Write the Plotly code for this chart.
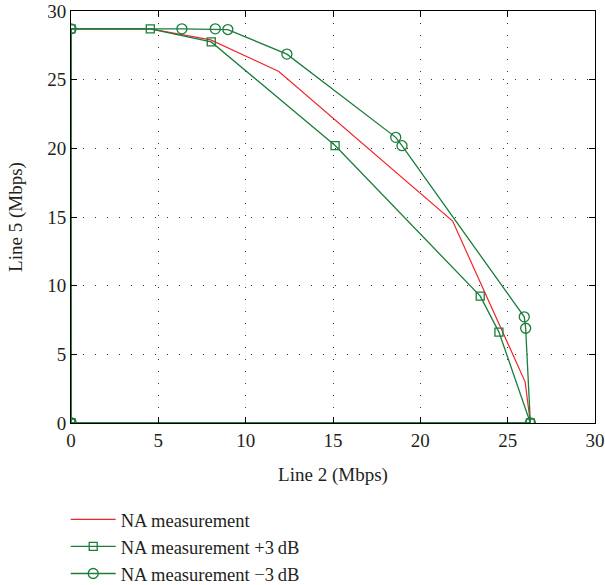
import plotly.graph_objects as go

# NA measurement (red)
na_x = [0, 0, 4.54, 8.0, 11.9, 21.85, 26.0, 26.3, 0]
na_y = [0, 28.7, 28.7, 27.9, 25.6, 14.7, 3.0, 0, 0]

# NA measurement +3 dB (squares)
plus_x = [0, 0, 4.54, 8.03, 15.12, 23.43, 24.5, 26.3, 0]
plus_y = [0, 28.7, 28.7, 27.75, 20.2, 9.24, 6.62, 0, 0]

# NA measurement -3 dB (circles)
minus_x = [0, 0, 6.35, 8.26, 8.98, 12.36, 18.59, 18.95, 25.95, 26.03, 26.3, 0]
minus_y = [0, 28.7, 28.7, 28.7, 28.65, 26.86, 20.8, 20.19, 7.73, 6.9, 0, 0]

tick_vals = [0, 5, 10, 15, 20, 25, 30]

RED = "#f0262a"
GREEN = "#1b7d3c"
TEXT = "#231f20"
FONT = "Liberation Serif"

fig = go.Figure()

fig.add_trace(go.Scatter(
    x=na_x, y=na_y, mode="lines", name="NA measurement",
    line=dict(color=RED, width=1.2),
))
fig.add_trace(go.Scatter(
    x=plus_x, y=plus_y, mode="lines+markers", name="NA measurement +3\u2009dB",
    line=dict(color=GREEN, width=1.3),
    marker=dict(symbol="square-open", size=8, color=GREEN, line=dict(width=1.3)),
))
fig.add_trace(go.Scatter(
    x=minus_x, y=minus_y, mode="lines+markers", name="NA measurement \u22123\u2009dB",
    line=dict(color=GREEN, width=1.3),
    marker=dict(symbol="circle-open", size=10, color=GREEN, line=dict(width=1.3)),
))

axis_common = dict(
    range=[0, 30],
    tickvals=tick_vals,
    ticks="inside",
    ticklen=6,
    tickcolor="black",
    showline=True,
    linecolor="black",
    linewidth=1,
    mirror="ticks",
    showgrid=True,
    gridcolor="#333",
    griddash="1px,11px",
    gridwidth=1.2,
    zeroline=False,
    automargin=False,
    tickfont=dict(family=FONT, size=19, color=TEXT),
)

fig.update_xaxes(
    title=dict(text="Line 2 (Mbps)", font=dict(family=FONT, size=19, color=TEXT), standoff=17),
    **axis_common,
)
fig.update_yaxes(
    title=dict(text="Line 5 (Mbps)", font=dict(family=FONT, size=19, color=TEXT), standoff=19),
    **axis_common,
)

fig.update_layout(
    width=605,
    height=585,
    margin=dict(l=71, r=10, t=11, b=162, autoexpand=False),
    paper_bgcolor="white",
    plot_bgcolor="white",
    showlegend=True,
    legend=dict(
        x=-0.0101, y=-0.189, xanchor="left", yanchor="top",
        font=dict(family=FONT, size=18.5, color=TEXT),
        bgcolor="rgba(0,0,0,0)",
        tracegroupgap=0,
        itemwidth=45,
    ),
)

# drop the browser's default 8px body margin so the figure fills the window
fig.write_html(
    "out.html",
    config={"displayModeBar": False},
    post_script="document.body.style.margin='0px';",
)
